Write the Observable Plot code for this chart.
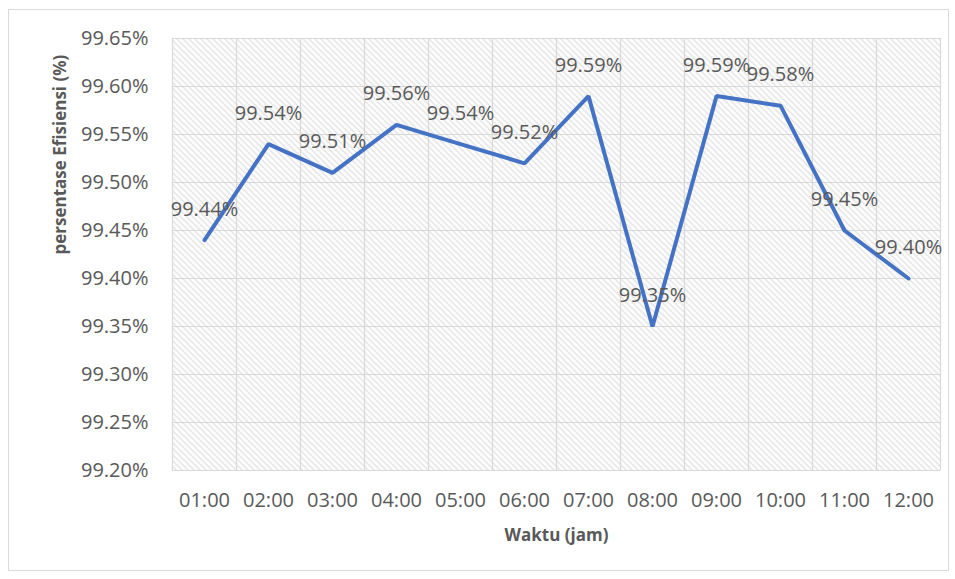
<!DOCTYPE html>
<html>
<head>
<meta charset="utf-8">
<script src="https://cdn.jsdelivr.net/npm/d3@7"></script>
<script src="https://cdn.jsdelivr.net/npm/@observablehq/plot@0.6"></script>
<style>
  body { margin: 0; background: #fff; }
  #wrap { position: relative; width: 955px; height: 579px; }
  #border { position: absolute; left: 8px; top: 9px; width: 939px; height: 560px; border: 1px solid #d9d9d9; pointer-events: none; }
</style>
</head>
<body>
<div id="wrap"><div id="border"></div></div>
<script>
const categories = ["01:00","02:00","03:00","04:00","05:00","06:00","07:00","08:00","09:00","10:00","11:00","12:00"];
const efficiency = [99.44, 99.54, 99.51, 99.56, 99.54, 99.52, 99.59, 99.35, 99.59, 99.58, 99.45, 99.40];
const yTicks = [99.20, 99.25, 99.30, 99.35, 99.40, 99.45, 99.50, 99.55, 99.60, 99.65];
const xTitle = "Waktu (jam)";
const yTitle = "persentase Efisiensi (%)";

const data = categories.map((c, i) => ({i, c, v: efficiency[i]}));
const boundaries = d3.range(categories.length + 1).map(k => k - 0.5);
const fmt = v => v.toFixed(2) + "%";
const font = "'Open Sans', sans-serif";

const svg = Plot.plot({
  width: 955,
  height: 579,
  marginLeft: 172,
  marginRight: 15,
  marginTop: 38,
  marginBottom: 109,
  style: {fontFamily: font, background: "transparent"},
  x: {type: "linear", domain: [-0.5, categories.length - 0.5]},
  y: {domain: [yTicks[0], yTicks[yTicks.length - 1]]},
  marks: [
    Plot.frame({fill: "url(#hatch)", stroke: null}),
    Plot.ruleY(yTicks, {stroke: "#d9d9d9", strokeWidth: 1.2}),
    Plot.ruleX(boundaries, {stroke: "#d9d9d9", strokeWidth: 1.2}),
    Plot.axisY(yTicks, {tickSize: 0, tickPadding: 24, tickFormat: fmt, fontSize: 20, fill: "#595959", label: null}),
    Plot.axisX(d3.range(categories.length), {tickSize: 0, tickPadding: 22, tickFormat: i => categories[i], fontSize: 20, fill: "#595959", label: null}),
    Plot.line(data, {x: "i", y: "v", stroke: "#4472c4", strokeWidth: 4, strokeLinejoin: "miter"}),
    Plot.text(data, {x: "i", y: "v", text: d => fmt(d.v), dy: -31, fontSize: 20, fill: "#595959"}),
    Plot.text([yTitle], {frameAnchor: "left", dx: -112, rotate: -90, fontSize: 17, fontWeight: "bold", fill: "#595959"}),
    Plot.text([xTitle], {frameAnchor: "bottom", dy: 70, fontSize: 17, fontWeight: "bold", fill: "#595959"})
  ]
});

const defs = d3.select(svg).insert("defs", ":first-child");
const pat = defs.append("pattern").attr("id", "hatch").attr("patternUnits", "userSpaceOnUse").attr("width", 6).attr("height", 6);
pat.append("rect").attr("width", 6).attr("height", 6).attr("fill", "#ffffff");
pat.append("path").attr("d", "M0,0L6,6M-1,5L1,7M5,-1L7,1").attr("stroke", "#dedede").attr("stroke-width", 1.3);

document.getElementById("wrap").appendChild(svg);
</script>
</body>
</html>
